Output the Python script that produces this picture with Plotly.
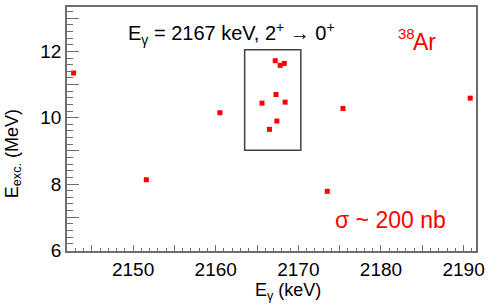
import plotly.graph_objects as go

# Data
e_gamma = [2142.8, 2151.6, 2160.5, 2167.2, 2167.8, 2168.3, 2167.3, 2165.6, 2168.4,
           2167.4, 2166.5, 2175.4, 2190.8, 2173.5]
e_exc = [11.35, 8.13, 10.15, 11.72, 11.58, 11.64, 10.70, 10.44, 10.47,
         9.90, 9.65, 10.28, 10.59, 7.78]

box_x = [2163.5, 2170.3]
box_y = [9.02, 12.05]

x_tickvals = [2145, 2150, 2155, 2160, 2165, 2170, 2175, 2180, 2185, 2190]
x_ticktext = ["", "2150", "", "2160", "", "2170", "", "2180", "", "2190"]
y_tickvals = [6, 7, 8, 9, 10, 11, 12, 13]
y_ticktext = ["6", "", "8", "", "10", "", "12", ""]

FONT = "Liberation Sans, Arial, Helvetica, sans-serif"
AX = "#6e6e6e"
W, H = 490, 308
L, R, T, B = 67, 11, 5, 57


def px(x):
    return (x - L) / (W - L - R)


def py(y):
    return 1 - (y - T) / (H - T - B)


fig = go.Figure()
fig.add_trace(go.Scatter(
    x=e_gamma, y=e_exc, mode="markers",
    marker=dict(symbol="square", size=5, color="#ff0000", line=dict(width=0)),
    showlegend=False, hoverinfo="skip"))

fig.add_shape(type="rect", xref="x", yref="y",
              x0=box_x[0], x1=box_x[1], y0=box_y[0], y1=box_y[1],
              line=dict(color="#404040", width=1.5))

fig.update_layout(
    width=W, height=H,
    margin=dict(l=L, r=R, t=T, b=B),
    paper_bgcolor="white", plot_bgcolor="white",
    font=dict(family=FONT, size=19, color="black"),
    xaxis=dict(range=[2142.0, 2191.5], showgrid=False, zeroline=False,
               showline=True, linecolor=AX, linewidth=1.5, mirror=True,
               ticks="inside", ticklen=6, tickcolor=AX, tickwidth=1,
               tickmode="array", tickvals=x_tickvals, ticktext=x_ticktext,
               tickfont=dict(size=19),
               minor=dict(dtick=1, tick0=2140, ticks="inside", ticklen=3,
                          tickcolor=AX, tickwidth=1, showgrid=False)),
    yaxis=dict(range=[5.98, 13.34], showgrid=False, zeroline=False,
               showline=True, linecolor=AX, linewidth=1.5, mirror=True,
               ticks="inside", ticklen=12, tickcolor=AX, tickwidth=1.2,
               tickmode="array", tickvals=y_tickvals, ticktext=y_ticktext,
               tickfont=dict(size=19),
               minor=dict(dtick=0.2, tick0=6, ticks="inside", ticklen=6,
                          tickcolor=AX, tickwidth=1, showgrid=False)),
)

fig.add_annotation(xref="paper", yref="paper", x=px(13), y=py(153),
                   text="E<sub>exc.</sub> (MeV)", textangle=-90, showarrow=False,
                   font=dict(size=18, color="black"), xanchor="center", yanchor="middle")
fig.add_annotation(xref="paper", yref="paper", x=px(290), y=py(292),
                   text="E<sub>γ</sub> (keV)", showarrow=False,
                   font=dict(size=18, color="black"), xanchor="center", yanchor="middle")
fig.add_annotation(xref="paper", yref="paper", x=px(233), y=py(32),
                   text="E<sub>γ</sub> = 2167 keV, 2<sup>+</sup> → 0<sup>+</sup>",
                   showarrow=False, font=dict(size=20, color="black"),
                   xanchor="center", yanchor="middle")
fig.add_annotation(xref="paper", yref="paper", x=px(420), y=py(32),
                   text="38", showarrow=False,
                   font=dict(size=15, color="#ff0000"), xanchor="right", yanchor="middle")
fig.add_annotation(xref="paper", yref="paper", x=px(414), y=py(40),
                   text="Ar", showarrow=False,
                   font=dict(size=23, color="#ff0000"), xanchor="left", yanchor="middle")
fig.add_annotation(xref="paper", yref="paper", x=px(393), y=py(220),
                   text="σ ~ 200 nb", showarrow=False,
                   font=dict(size=23, color="#ff0000"), xanchor="center", yanchor="middle")

fig.write_html("out.html", config={"displayModeBar": False},
               post_script="document.body.style.margin='0';document.body.style.padding='0';")
